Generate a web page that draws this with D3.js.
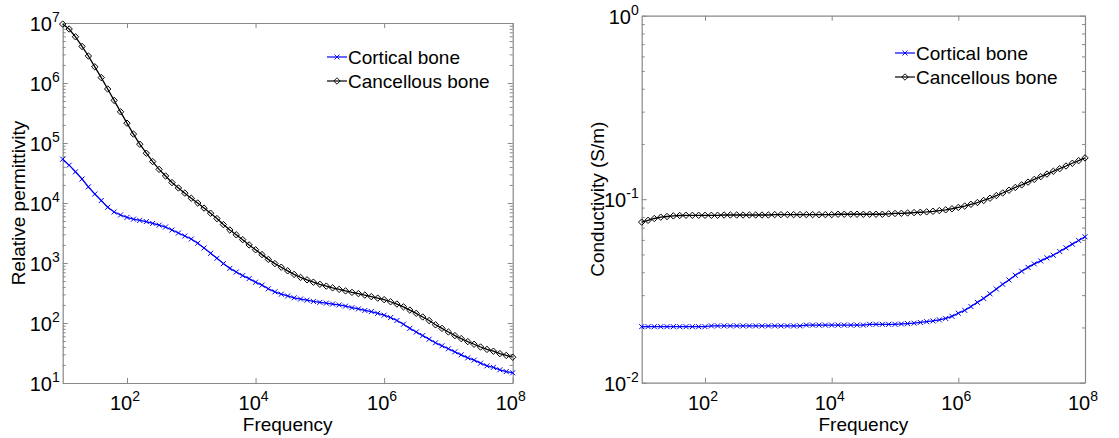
<!DOCTYPE html>
<html>
<head>
<meta charset="utf-8">
<script src="https://cdn.jsdelivr.net/npm/d3@7"></script>
<style>
body { margin: 0; background: #fff; }
svg { display: block; font-family: "Liberation Sans", Arial, sans-serif; }
.domain { stroke: #888; }
.tick line { stroke: #888; }
</style>
</head>
<body>
<svg id="chart" width="1119" height="438"></svg>
<script>
// frequency points (Hz), 10 per decade
const frequency = [
  1.00e1, 1.26e1, 1.58e1, 2.00e1, 2.51e1, 3.16e1, 3.98e1, 5.01e1, 6.31e1, 7.94e1,
  1.00e2, 1.26e2, 1.58e2, 2.00e2, 2.51e2, 3.16e2, 3.98e2, 5.01e2, 6.31e2, 7.94e2,
  1.00e3, 1.26e3, 1.58e3, 2.00e3, 2.51e3, 3.16e3, 3.98e3, 5.01e3, 6.31e3, 7.94e3,
  1.00e4, 1.26e4, 1.58e4, 2.00e4, 2.51e4, 3.16e4, 3.98e4, 5.01e4, 6.31e4, 7.94e4,
  1.00e5, 1.26e5, 1.58e5, 2.00e5, 2.51e5, 3.16e5, 3.98e5, 5.01e5, 6.31e5, 7.94e5,
  1.00e6, 1.26e6, 1.58e6, 2.00e6, 2.51e6, 3.16e6, 3.98e6, 5.01e6, 6.31e6, 7.94e6,
  1.00e7, 1.26e7, 1.58e7, 2.00e7, 2.51e7, 3.16e7, 3.98e7, 5.01e7, 6.31e7, 7.94e7,
  1.00e8
];

const permCortical = [
  53700, 42700, 33100, 25100, 18600, 14100, 11000, 8510, 7080, 6310,
  5750, 5370, 5130, 4900, 4570, 4270, 3980, 3550, 3160, 2820,
  2510, 2140, 1780, 1450, 1200, 977, 813, 708, 617, 550,
  479, 427, 372, 331, 302, 282, 263, 251, 240, 229,
  221, 214, 207, 200, 191, 180, 172, 162, 155, 145,
  135, 123, 110, 95.5, 81.3, 70.8, 61.7, 53.7, 46.8, 41.7,
  37.2, 33.1, 29.5, 26.3, 24.0, 21.4, 19.3, 18.2, 16.6, 15.5,
  14.8
];

const permCancellous = [
  9.6e6, 7.94e6, 5.89e6, 4.07e6, 2.82e6, 1.86e6, 1.23e6, 7.94e5, 5.13e5, 3.31e5,
  2.14e5, 1.41e5, 9.55e4, 6.76e4, 4.90e4, 3.63e4, 2.82e4, 2.19e4, 1.78e4, 1.46e4,
  1.20e4, 1.00e4, 8220, 6760, 5500, 4370, 3550, 2950, 2450, 2000,
  1660, 1380, 1150, 977, 851, 741, 646, 575, 525, 479,
  442, 412, 385, 363, 343, 324, 309, 292, 275, 260,
  245, 226, 207, 186, 164, 145, 126, 110, 93.3, 81.3,
  70.8, 61.7, 55.0, 49.0, 44.2, 39.8, 36.3, 33.9, 30.9, 28.8,
  26.9
];

const condCortical = [
  0.0202, 0.0202, 0.0202, 0.0202, 0.0202, 0.0202, 0.0202, 0.0202, 0.0202, 0.0202,
  0.0202, 0.0204, 0.0204, 0.0204, 0.0204, 0.0204, 0.0204, 0.0204, 0.0204, 0.0204,
  0.0204, 0.0204, 0.0204, 0.0204, 0.0204, 0.0204, 0.0206, 0.0206, 0.0206, 0.0206,
  0.0206, 0.0206, 0.0206, 0.0206, 0.0206, 0.0206, 0.0208, 0.0208, 0.0208, 0.0208,
  0.0208, 0.0209, 0.0210, 0.0211, 0.0213, 0.0215, 0.0217, 0.0220, 0.0224, 0.0230,
  0.0239, 0.0248, 0.0260, 0.0274, 0.0288, 0.0305, 0.0324, 0.0344, 0.0363, 0.0385,
  0.0405, 0.0425, 0.0444, 0.0461, 0.0479, 0.0495, 0.0519, 0.0543, 0.0569, 0.0596,
  0.0624
];

const condCancellous = [
  0.0750, 0.0767, 0.0785, 0.0798, 0.0805, 0.0811, 0.0815, 0.0817, 0.0817, 0.0817,
  0.0817, 0.0817, 0.0817, 0.0820, 0.0820, 0.0820, 0.0820, 0.0820, 0.0820, 0.0820,
  0.0820, 0.0824, 0.0824, 0.0824, 0.0824, 0.0824, 0.0824, 0.0824, 0.0824, 0.0824,
  0.0824, 0.0828, 0.0828, 0.0828, 0.0828, 0.0828, 0.0828, 0.0828, 0.0828, 0.0832,
  0.0836, 0.0838, 0.0841, 0.0845, 0.0849, 0.0853, 0.0859, 0.0867, 0.0875, 0.0887,
  0.0902, 0.0918, 0.0938, 0.0959, 0.0984, 0.1012, 0.1047, 0.1081, 0.1119, 0.1159,
  0.1197, 0.1239, 0.1282, 0.1327, 0.1371, 0.1419, 0.1466, 0.1517, 0.1570, 0.1622,
  0.1679
];

const seriesNames = ["Cortical bone", "Cancellous bone"];
const seriesColors = ["#0000ff", "#000000"];

const xTickValues = [1e2, 1e4, 1e6, 1e8];
const xTickExponents = ["2", "4", "6", "8"];
const permTickValues = [1e1, 1e2, 1e3, 1e4, 1e5, 1e6, 1e7];
const permTickExponents = ["1", "2", "3", "4", "5", "6", "7"];
const condTickValues = [1e-2, 1e-1, 1e0];
const condTickExponents = ["-2", "-1", "0"];

const panels = [
  {
    left: 62.7, right: 512.7, top: 23, bottom: 383,
    yDomain: [1e1, 1e7], yTicks: permTickValues, yExp: permTickExponents,
    ylabel: "Relative permittivity", ylabelX: 25,
    series: [permCortical, permCancellous],
    legendX: 327, legendY: 57
  },
  {
    left: 641.7, right: 1085, top: 15.7, bottom: 382.7,
    yDomain: [1e-2, 1e0], yTicks: condTickValues, yExp: condTickExponents,
    ylabel: "Conductivity (S/m)", ylabelX: 604,
    series: [condCortical, condCancellous],
    legendX: 895, legendY: 53
  }
];

const svg = d3.select("#chart");

const markerPaths = [
  "M-2.5,-2.5L2.5,2.5M-2.5,2.5L2.5,-2.5",  // x
  "M0,-3.2L3.2,0L0,3.2L-3.2,0Z"             // diamond
];

panels.forEach(p => {

  const x = d3.scaleLog().domain([1e1, 1e8]).range([p.left, p.right]);
  const y = d3.scaleLog().domain(p.yDomain).range([p.bottom, p.top]);

  const minorY = y.ticks().filter(v => !p.yTicks.some(t => Math.abs(t - v) / t < 1e-9));

  // box with inward ticks on all sides
  svg.append("g")
    .attr("transform", "translate(0," + p.bottom + ")")
    .call(d3.axisBottom(x).tickValues(xTickValues).tickSize(-5).tickSizeOuter(0).tickFormat(""));
  svg.append("g")
    .attr("transform", "translate(0," + p.top + ")")
    .call(d3.axisTop(x).tickValues(xTickValues).tickSize(-5).tickSizeOuter(0).tickFormat(""));
  svg.append("g")
    .attr("transform", "translate(" + p.left + ",0)")
    .call(d3.axisLeft(y).tickValues(p.yTicks).tickSize(-5).tickSizeOuter(0).tickFormat(""));
  svg.append("g")
    .attr("transform", "translate(" + p.right + ",0)")
    .call(d3.axisRight(y).tickValues(p.yTicks).tickSize(-5).tickSizeOuter(0).tickFormat(""));
  svg.append("g")
    .attr("transform", "translate(" + p.left + ",0)")
    .call(d3.axisLeft(y).tickValues(minorY).tickSize(-3).tickSizeOuter(0).tickFormat(""))
    .select(".domain").remove();
  svg.append("g")
    .attr("transform", "translate(" + p.right + ",0)")
    .call(d3.axisRight(y).tickValues(minorY).tickSize(-3).tickSizeOuter(0).tickFormat(""))
    .select(".domain").remove();

  svg.selectAll(".domain").attr("stroke", "#888").attr("stroke-width", 1.2);

  // x tick labels
  const xl = svg.append("g").selectAll("text")
    .data(xTickValues)
    .join("text")
    .attr("x", d => x(d) - 2)
    .attr("y", p.bottom + 27)
    .attr("text-anchor", "middle")
    .attr("font-size", 20)
    .attr("fill", "#000");
  xl.append("tspan").text("10");
  xl.append("tspan").attr("dy", -9).attr("font-size", 14).text((d, i) => xTickExponents[i]);

  // y tick labels
  const yl = svg.append("g").selectAll("text")
    .data(p.yTicks)
    .join("text")
    .attr("x", p.left - 3)
    .attr("y", d => y(d) + 8)
    .attr("text-anchor", "end")
    .attr("font-size", 20)
    .attr("fill", "#000");
  yl.append("tspan").text("10");
  yl.append("tspan").attr("dy", -9).attr("font-size", 14).text((d, i) => p.yExp[i]);

  // axis labels
  svg.append("text")
    .attr("x", (p.left + p.right) / 2)
    .attr("y", p.bottom + 48)
    .attr("text-anchor", "middle")
    .attr("font-size", 19)
    .text("Frequency");

  svg.append("text")
    .attr("transform", "translate(" + p.ylabelX + "," + ((p.top + p.bottom) / 2) + ") rotate(-90)")
    .attr("text-anchor", "middle")
    .attr("font-size", 19)
    .text(p.ylabel);

  // curves
  const line = d3.line()
    .x(d => x(d[0]))
    .y(d => y(d[1]));

  p.series.forEach((vals, si) => {
    const pts = frequency.map((f, i) => [f, vals[i]]);
    svg.append("path")
      .datum(pts)
      .attr("d", line)
      .attr("fill", "none")
      .attr("stroke", seriesColors[si])
      .attr("stroke-width", 1.3);
    svg.append("g").selectAll("path")
      .data(pts)
      .join("path")
      .attr("transform", d => "translate(" + x(d[0]) + "," + y(d[1]) + ")")
      .attr("d", markerPaths[si])
      .attr("fill", "none")
      .attr("stroke", seriesColors[si])
      .attr("stroke-width", 1);
  });

  // legend
  const lg = svg.append("g").selectAll("g")
    .data(seriesNames)
    .join("g")
    .attr("transform", (d, i) => "translate(" + p.legendX + "," + (p.legendY + i * 24) + ")");
  lg.append("line")
    .attr("x1", 0).attr("x2", 20)
    .attr("stroke", (d, i) => seriesColors[i])
    .attr("stroke-width", 1.2);
  lg.append("path")
    .attr("transform", "translate(10,0)")
    .attr("d", (d, i) => markerPaths[i])
    .attr("fill", "none")
    .attr("stroke", (d, i) => seriesColors[i])
    .attr("stroke-width", 0.9);
  lg.append("text")
    .attr("x", 21)
    .attr("y", 7)
    .attr("font-size", 19)
    .text(d => d);
});
</script>
</body>
</html>
